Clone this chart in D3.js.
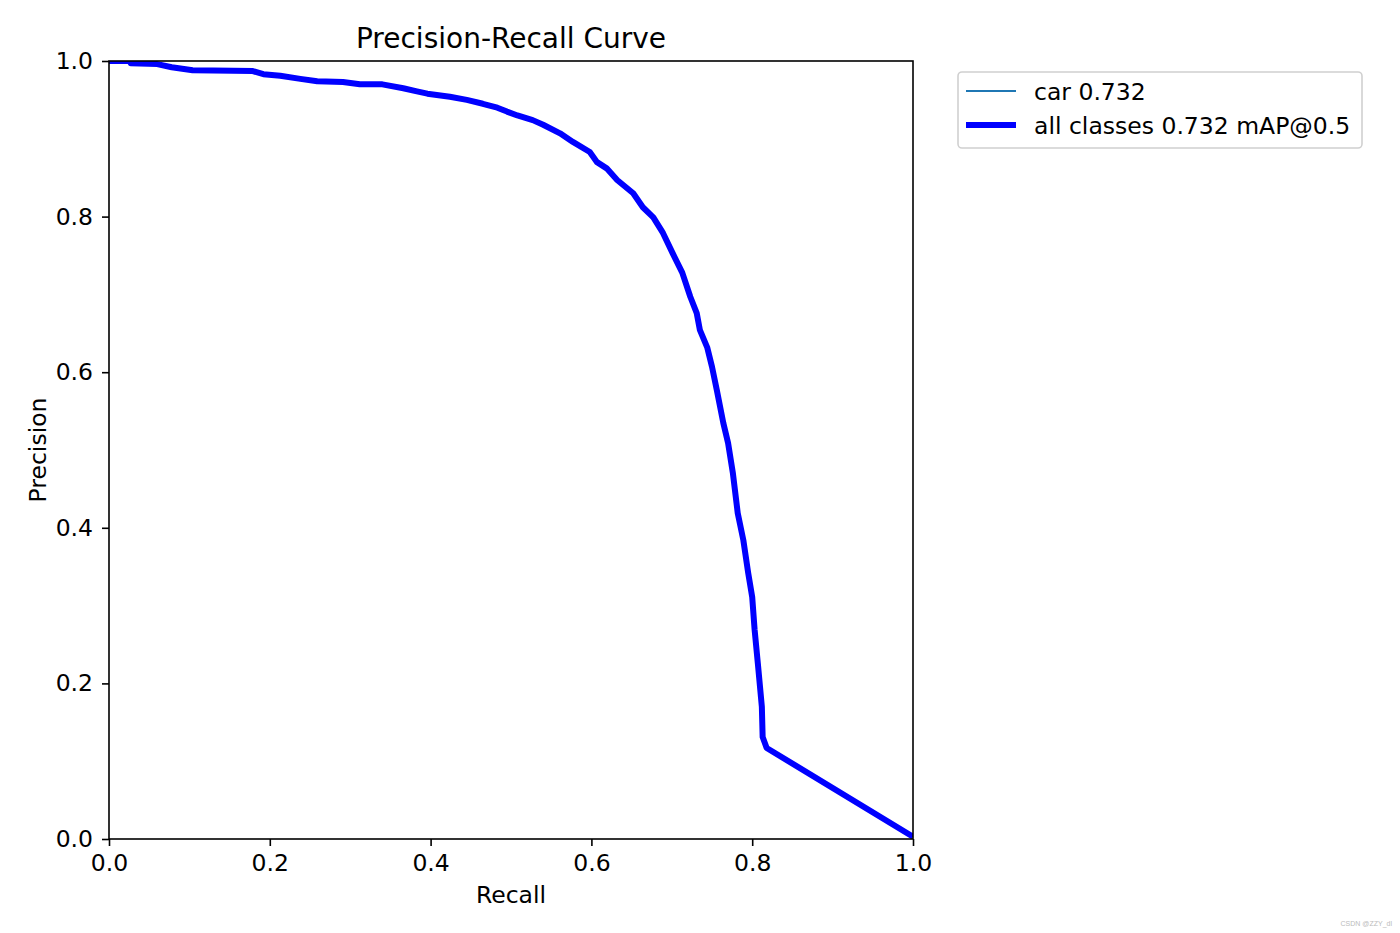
<!DOCTYPE html>
<html>
<head>
<meta charset="utf-8">
<script src="https://cdn.jsdelivr.net/npm/d3@7"></script>
<style>
  html, body { margin: 0; padding: 0; background: #fff; }
  svg { display: block; font-family: "DejaVu Sans", sans-serif; }
</style>
</head>
<body>
<svg id="chart" width="1400" height="933"></svg>
<script>
// ---- data ----
const recall = [0, 0.026, 0.027, 0.060, 0.078, 0.104, 0.179, 0.192, 0.213, 0.238, 0.259, 0.291, 0.312, 0.340, 0.366, 0.383, 0.396, 0.424, 0.445, 0.465, 0.483, 0.495, 0.508, 0.527, 0.540, 0.561, 0.577, 0.598, 0.607, 0.619, 0.632, 0.652, 0.664, 0.677, 0.689, 0.701, 0.713, 0.723, 0.731, 0.735, 0.744, 0.750, 0.756, 0.764, 0.770, 0.776, 0.782, 0.789, 0.795, 0.800, 0.803, 0.807, 0.812, 0.813, 0.818, 1.0];
const precision = [1.000, 1.000, 0.997, 0.996, 0.992, 0.988, 0.987, 0.983, 0.981, 0.977, 0.974, 0.973, 0.970, 0.970, 0.965, 0.961, 0.958, 0.954, 0.950, 0.945, 0.940, 0.935, 0.930, 0.924, 0.918, 0.907, 0.896, 0.883, 0.870, 0.862, 0.847, 0.830, 0.812, 0.799, 0.779, 0.753, 0.728, 0.697, 0.676, 0.654, 0.632, 0.607, 0.577, 0.535, 0.509, 0.470, 0.419, 0.384, 0.342, 0.311, 0.269, 0.226, 0.170, 0.131, 0.117, 0.003];
const xTicks = [0.0, 0.2, 0.4, 0.6, 0.8, 1.0];
const yTicks = [0.0, 0.2, 0.4, 0.6, 0.8, 1.0];
const legendLabels = ["car 0.732", "all classes 0.732 mAP@0.5"];
const titleText = "Precision-Recall Curve";
const xLabel = "Recall";
const yLabel = "Precision";

// ---- layout ----
const svg = d3.select("#chart");
const pL = 109, pR = 913, pT = 61, pB = 839;
const x = d3.scaleLinear().domain([0, 1]).range([pL, pR]);
const y = d3.scaleLinear().domain([0, 1]).range([pB, pT]);
const pts = recall.map((r, i) => [r, precision[i]]);
const line = d3.line().x(d => x(d[0])).y(d => y(d[1]));

svg.append("defs").append("clipPath").attr("id", "clip")
  .append("rect").attr("x", pL).attr("y", pT).attr("width", pR - pL).attr("height", pB - pT);

// curves
const g = svg.append("g").attr("clip-path", "url(#clip)");
g.append("path").datum(pts).attr("d", line)
  .attr("fill", "none").attr("stroke", "#1f77b4").attr("stroke-width", 2);
g.append("path").datum(pts).attr("d", line)
  .attr("fill", "none").attr("stroke", "#0000ff").attr("stroke-width", 6)
  .attr("stroke-linejoin", "round").attr("stroke-linecap", "butt");

// axes
const fmt = d3.format(".1f");
const xAxis = svg.append("g").attr("transform", `translate(0,${pB})`)
  .call(d3.axisBottom(x).tickValues(xTicks).tickFormat(fmt).tickSize(7).tickPadding(8));
const yAxis = svg.append("g").attr("transform", `translate(${pL},0)`)
  .call(d3.axisLeft(y).tickValues(yTicks).tickFormat(fmt).tickSize(7).tickPadding(9));
[xAxis, yAxis].forEach(a => {
  a.select(".domain").remove();
  a.selectAll("line").attr("stroke", "#000").attr("stroke-width", 1.6);
  a.selectAll("text").attr("fill", "#000").attr("font-size", 23.5)
    .attr("font-family", "DejaVu Sans, sans-serif");
});

// frame
svg.append("rect").attr("x", pL).attr("y", pT)
  .attr("width", pR - pL).attr("height", pB - pT)
  .attr("fill", "none").attr("stroke", "#000").attr("stroke-width", 1.6);

// title & labels
svg.append("text").attr("x", (pL + pR) / 2).attr("y", 48)
  .attr("text-anchor", "middle").attr("font-size", 28).attr("fill", "#000").text(titleText);
svg.append("text").attr("x", (pL + pR) / 2).attr("y", 903)
  .attr("text-anchor", "middle").attr("font-size", 23.5).attr("fill", "#000").text(xLabel);
svg.append("text").attr("transform", `translate(46,${(pT + pB) / 2}) rotate(-90)`)
  .attr("text-anchor", "middle").attr("font-size", 23.5).attr("fill", "#000").text(yLabel);

// legend
const lg = svg.append("g");
lg.append("rect").attr("x", 958).attr("y", 72).attr("width", 404).attr("height", 76)
  .attr("rx", 4).attr("fill", "#fff").attr("stroke", "#d0d0d0").attr("stroke-width", 1.6);
const legendStyles = [{c: "#1f77b4", w: 2}, {c: "#0000ff", w: 6}];
legendLabels.forEach((lab, i) => {
  const yy = 91 + i * 34;
  lg.append("line").attr("x1", 966).attr("x2", 1016).attr("y1", yy).attr("y2", yy)
    .attr("stroke", legendStyles[i].c).attr("stroke-width", legendStyles[i].w);
  lg.append("text").attr("x", 1034).attr("y", yy + 8.5).attr("font-size", 23.5)
    .attr("fill", "#000").text(lab);
});

// watermark
svg.append("text").attr("x", 1392).attr("y", 926).attr("text-anchor", "end")
  .attr("font-size", 7).attr("fill", "#bbb").attr("font-family", "Liberation Sans, sans-serif")
  .text("CSDN @ZZY_dl");
</script>
</body>
</html>
